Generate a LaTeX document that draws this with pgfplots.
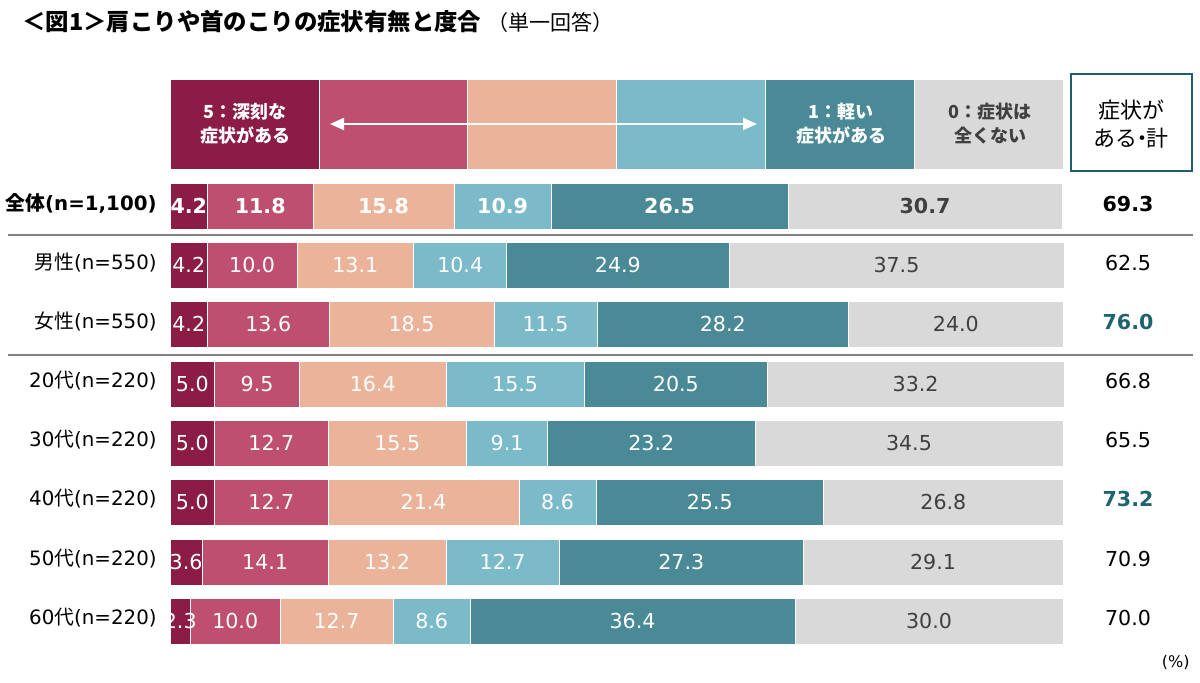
\documentclass[border=0pt]{standalone}
\usepackage{fontspec}
\setmainfont{DejaVu Sans}
\newfontfamily\jp{Noto Sans CJK JP}
\usepackage{pgfplots}
\usepackage{pgfplotstable}
\pgfplotsset{compat=1.18}
\usetikzlibrary{arrows.meta}
\definecolor{c5}{HTML}{8B1C45}
\definecolor{c4}{HTML}{BF4F6E}
\definecolor{c3}{HTML}{EBB39A}
\definecolor{c2}{HTML}{7BBAC9}
\definecolor{c1}{HTML}{4A8A96}
\definecolor{c0}{HTML}{D9D9D9}
\definecolor{boxc}{HTML}{1F5F6B}
\definecolor{tealtxt}{HTML}{1E6370}
\definecolor{dgray}{HTML}{404040}
\definecolor{sepc}{HTML}{808080}

\pgfplotstableread{
y a b c d e f
124 16.6667 16.6667 16.6667 16.6667 16.6667 16.6667
}\tablehead
\pgfplotstableread{
y a b c d e f
206 4.2 11.8 15.8 10.9 26.5 30.7
}\tableall
\pgfplotstableread{
y a b c d e f
265 4.2 10.0 13.1 10.4 24.9 37.5
324 4.2 13.6 18.5 11.5 28.2 24.0
384 5.0 9.5 16.4 15.5 20.5 33.2
443 5.0 12.7 15.5 9.1 23.2 34.5
502 5.0 12.7 21.4 8.6 25.5 26.8
562 3.6 14.1 13.2 12.7 27.3 29.1
621 2.3 10.0 12.7 8.6 36.4 30.0
}\tablerest

\newcommand\labfont{\fontsize{10.3pt}{12pt}\selectfont}
\newcommand\labfontb{\fontsize{10.3pt}{12pt}\selectfont\bfseries}
\newcommand\rowfont{\fontsize{9.9pt}{12pt}\selectfont}

\pgfplotsset{
  base/.style={
    at={(85pt,-341.5pt)}, anchor=south west, scale only axis,
    width=446.5pt, height=341.5pt,
    xmin=0, xmax=100, ymin=0, ymax=683, y dir=reverse,
    axis lines=none, xbar stacked, clip=false,
    /pgf/number format/assume math mode=true,
  },
  seg/.style={fill=#1, draw=white, line width=0.3pt},
  lab/.style n args={3}{
    point meta=explicit,
    nodes near coords={\pgfmathprintnumber[fixed,fixed zerofill,precision=1]{\pgfplotspointmeta}},
    every node near coord/.style={anchor=center, text=#2, font=#3, inner sep=0pt},
  },
}

\begin{document}
\begin{tikzpicture}[x=0.5pt,y=-0.5pt]
\useasboundingbox (0,0) rectangle (1200,683);

% title
\node[anchor=base west, inner sep=0pt, font=\jp\fontsize{11.7pt}{14pt}\selectfont\bfseries] at (22,31) {＜図1＞肩こりや首のこりの症状有無と度合};
\node[anchor=base west, inner sep=0pt, font=\jp\fontsize{10.5pt}{12pt}\selectfont] at (487,31) {（単一回答）};

% header bar
\begin{axis}[base, bar width=90]
\addplot[seg=c5] table[x=a,y=y]{\tablehead};
\addplot[seg=c4] table[x=b,y=y]{\tablehead};
\addplot[seg=c3] table[x=c,y=y]{\tablehead};
\addplot[seg=c2] table[x=d,y=y]{\tablehead};
\addplot[seg=c1] table[x=e,y=y]{\tablehead};
\addplot[seg=c0] table[x=f,y=y]{\tablehead};
\end{axis}

% overall
\begin{axis}[base, bar width=46]
\addplot[seg=c5, lab={a}{white}{\labfontb}] table[x=a,y=y,meta=a]{\tableall};
\addplot[seg=c4, lab={b}{white}{\labfontb}] table[x=b,y=y,meta=b]{\tableall};
\addplot[seg=c3, lab={c}{white}{\labfontb}] table[x=c,y=y,meta=c]{\tableall};
\addplot[seg=c2, lab={d}{white}{\labfontb}] table[x=d,y=y,meta=d]{\tableall};
\addplot[seg=c1, lab={e}{white}{\labfontb}] table[x=e,y=y,meta=e]{\tableall};
\addplot[seg=c0, lab={f}{dgray}{\labfontb}] table[x=f,y=y,meta=f]{\tableall};
\end{axis}

% rest
\begin{axis}[base, bar width=46]
\addplot[seg=c5, lab={a}{white}{\labfont}] table[x=a,y=y,meta=a]{\tablerest};
\addplot[seg=c4, lab={b}{white}{\labfont}] table[x=b,y=y,meta=b]{\tablerest};
\addplot[seg=c3, lab={c}{white}{\labfont}] table[x=c,y=y,meta=c]{\tablerest};
\addplot[seg=c2, lab={d}{white}{\labfont}] table[x=d,y=y,meta=d]{\tablerest};
\addplot[seg=c1, lab={e}{white}{\labfont}] table[x=e,y=y,meta=e]{\tablerest};
\addplot[seg=c0, lab={f}{dgray}{\labfont}] table[x=f,y=y,meta=f]{\tablerest};
\end{axis}

% header texts
\node[align=center, text=white, font=\jp\fontsize{9pt}{12pt}\selectfont\bfseries] at (245,124) {5：深刻な\\症状がある};
\node[align=center, text=white, font=\jp\fontsize{9pt}{12pt}\selectfont\bfseries] at (841,124) {1：軽い\\症状がある};
\node[align=center, text=dgray, font=\jp\fontsize{9pt}{12pt}\selectfont\bfseries] at (990,124) {0：症状は\\全くない};
\draw[white, line width=1.1pt, {Triangle[length=7pt,width=6pt]}-{Triangle[length=7pt,width=6pt]}] (330,124) -- (757,124);

% box
\draw[boxc, line width=1pt] (1071,74) rectangle (1192,171);
\node[align=center, font=\jp\fontsize{11pt}{14pt}\selectfont] at (1131,124) {症状が\\ある\kern-0.3em・\kern-0.3em 計};

% separators
\draw[sepc, line width=1pt] (8,235) -- (1193,235);
\draw[sepc, line width=1pt] (8,355) -- (1193,355);

% row labels
\node[anchor=east, inner sep=0pt, font=\rowfont\bfseries] at (157,203) {{\jp 全体}(n=1,100)};
\node[anchor=east, inner sep=0pt, font=\rowfont] at (157,262) {{\jp 男性}(n=550)};
\node[anchor=east, inner sep=0pt, font=\rowfont] at (157,321) {{\jp 女性}(n=550)};
\node[anchor=east, inner sep=0pt, font=\rowfont] at (157,381) {20{\jp 代}(n=220)};
\node[anchor=east, inner sep=0pt, font=\rowfont] at (157,440) {30{\jp 代}(n=220)};
\node[anchor=east, inner sep=0pt, font=\rowfont] at (157,499) {40{\jp 代}(n=220)};
\node[anchor=east, inner sep=0pt, font=\rowfont] at (157,559) {50{\jp 代}(n=220)};
\node[anchor=east, inner sep=0pt, font=\rowfont] at (157,618) {60{\jp 代}(n=220)};

% totals
\node[font=\labfontb] at (1128,204) {69.3};
\node[font=\labfont] at (1128,263) {62.5};
\node[font=\labfontb, text=tealtxt] at (1128,322) {76.0};
\node[font=\labfont] at (1128,381) {66.8};
\node[font=\labfont] at (1128,440) {65.5};
\node[font=\labfontb, text=tealtxt] at (1128,499) {73.2};
\node[font=\labfont] at (1128,559) {70.9};
\node[font=\labfont] at (1128,618) {70.0};

\node[anchor=base east, inner sep=0pt, font=\fontsize{8pt}{10pt}\selectfont] at (1190,668) {(\%)};
\end{tikzpicture}
\end{document}
